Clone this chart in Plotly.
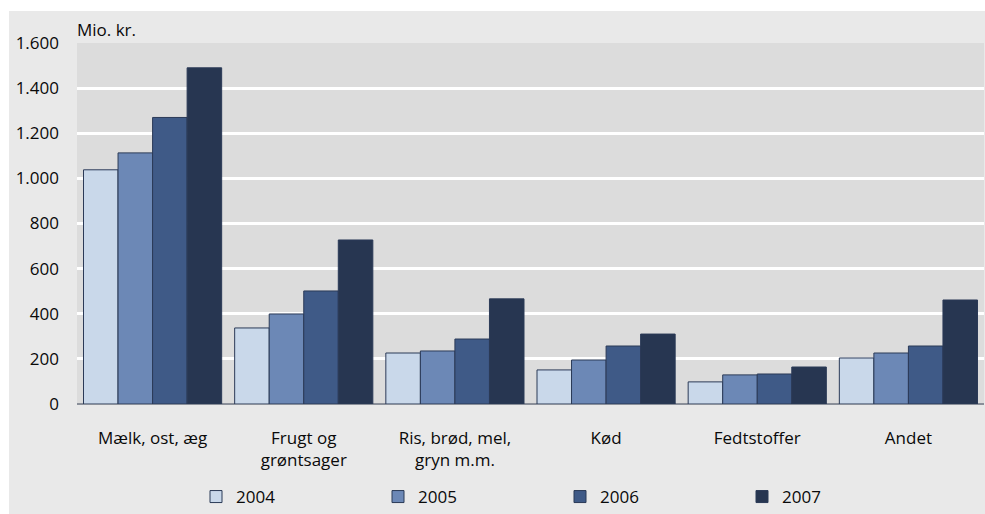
import plotly.graph_objects as go

categories = ["Mælk, ost, æg", "Frugt og<br>grøntsager", "Ris, brød, mel,<br>gryn m.m.", "Kød", "Fedtstoffer", "Andet"]
years = ["2004", "2005", "2006", "2007"]
v2004 = [1038, 337, 226, 151, 98, 204]
v2005 = [1113, 399, 235, 195, 129, 226]
v2006 = [1270, 501, 288, 257, 133, 257]
v2007 = [1490, 727, 466, 310, 164, 461]
series = [v2004, v2005, v2006, v2007]
colors = ["#c9d8ea", "#6c88b6", "#3f5a87", "#273651"]
yticks = [0, 200, 400, 600, 800, 1000, 1200, 1400, 1600]
yticklabels = ["0", "200", "400", "600", "800", "1.000", "1.200", "1.400", "1.600"]

FONT = "Open Sans"
FS = 17
TXT = "#0a0a0a"
W, H = 985, 514
L, R, T, B = 77, 1, 43, 110
pw, ph = W - L - R, H - T - B

fig = go.Figure()
for name, vals, col in zip(years, series, colors):
    fig.add_trace(go.Bar(
        x=categories, y=vals, name=name,
        marker=dict(color=col, line=dict(color="#2b3a57", width=1)),
    ))

def px_x(p):
    return (p - L) / pw

def px_y(p):
    return (H - B - p) / ph

fig.update_layout(
    width=W, height=H,
    margin=dict(l=L, r=R, t=T, b=B, autoexpand=False),
    paper_bgcolor="white",
    plot_bgcolor="#dcdcdc",
    barmode="group",
    bargap=0.086,
    bargroupgap=0,
    font=dict(family=FONT, size=FS, color=TXT),
    showlegend=True,
    legend=dict(
        orientation="h",
        x=px_x(196), xanchor="left",
        y=px_y(497), yanchor="middle",
        bgcolor="rgba(0,0,0,0)",
        entrywidth=137, entrywidthmode="pixels",
        font=dict(family=FONT, size=FS, color=TXT),
        itemwidth=30,
        traceorder="normal",
    ),
    shapes=[
        dict(type="rect", xref="paper", yref="paper", layer="below",
             x0=px_x(9), x1=px_x(990), y0=px_y(11), y1=px_y(520),
             fillcolor="#e9e9e9", line=dict(width=0)),
        dict(type="rect", xref="paper", yref="paper", layer="below",
             x0=0, x1=1, y0=0, y1=1,
             fillcolor="#dcdcdc", line=dict(width=0)),
    ],
    annotations=[
        dict(text="Mio. kr.", xref="paper", yref="paper",
             x=px_x(75), y=px_y(30), xanchor="left", yanchor="middle",
             showarrow=False, font=dict(family=FONT, size=FS, color=TXT)),
    ],
)

fig.update_yaxes(
    range=[0, 1600],
    tickvals=yticks, ticktext=yticklabels,
    showgrid=True, gridcolor="white", gridwidth=2.5,
    zeroline=True, zerolinecolor="#8a8f99", zerolinewidth=2,
    ticks="", ticklabelstandoff=17,
    tickfont=dict(family=FONT, size=FS, color=TXT),
    showline=False,
)
fig.update_xaxes(
    showgrid=False, ticks="", showline=False,
    tickfont=dict(family=FONT, size=FS, color=TXT),
    ticklabelstandoff=22,
)

fig.write_html(
    "out.html",
    config={"displayModeBar": False},
    post_script="document.body.style.margin='0';document.body.style.overflow='hidden';",
)
